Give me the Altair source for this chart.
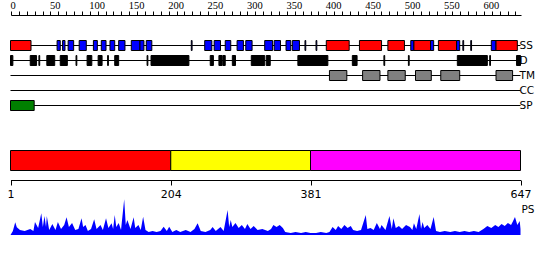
import altair as alt
import pandas as pd

seq_len = 647
tracks = ["SS", "D", "TM", "CC", "SP"]

# Secondary structure (H = red, E = blue)
ss_start = [1, 60, 67, 74, 88, 106, 116, 127, 138, 154, 165, 173, 230, 247, 259, 273, 288, 299,
            323, 335, 350, 358, 374, 388, 401, 443, 479, 508, 512, 533, 543, 566, 574, 584, 610, 616]
ss_end = [27, 64, 70, 81, 97, 111, 122, 133, 146, 165, 170, 180, 231, 256, 267, 280, 296, 307,
          333, 343, 356, 367, 375, 389, 430, 471, 500, 512, 533, 537, 566, 570, 575, 585, 616, 643]
ss_type = ["H", "E", "E", "E", "E", "E", "E", "E", "E", "E", "E", "E", "E", "E", "E", "E", "E", "E",
           "E", "E", "E", "E", "E", "E", "H", "H", "H", "E", "H", "E", "H", "E", "E", "E", "E", "H"]

# Disorder
d_start = [1, 26, 37, 47, 64, 84, 98, 112, 124, 133, 174, 179, 254, 265, 270, 282, 306, 325,
           365, 434, 474, 505, 567, 608, 642]
d_end = [4, 34, 38, 57, 73, 85, 104, 117, 125, 138, 175, 227, 258, 269, 273, 286, 323, 330,
         403, 440, 475, 506, 605, 609, 647]

# Transmembrane
tm_start = [405, 447, 479, 514, 546, 616]
tm_end = [427, 469, 501, 534, 570, 637]

# Signal peptide
sp_start = [1]
sp_end = [31]

# Domains
dom_name = ["Domain 1", "Domain 2", "Domain 3"]
dom_start = [1, 204, 381]
dom_end = [204, 381, 647]

# PS profile
ps_pos = [1, 4, 7, 9, 13, 19, 26, 30, 32, 36, 40, 42, 44, 46, 47, 50, 54, 58, 61, 65, 69, 72, 75,
          79, 83, 87, 91, 93, 96, 99, 103, 107, 110, 115, 118, 122, 125, 129, 131, 133, 135, 138,
          141, 145, 147, 149, 153, 157, 159, 163, 166, 169, 172, 176, 181, 186, 191, 195, 199, 202,
          206, 211, 216, 223, 229, 234, 238, 242, 248, 254, 257, 261, 267, 271, 276, 278, 280, 282,
          286, 290, 294, 298, 301, 305, 309, 314, 320, 327, 331, 334, 338, 342, 346, 349, 356, 362,
          369, 375, 381, 388, 394, 401, 405, 409, 413, 416, 420, 424, 428, 432, 435, 440, 445, 451,
          453, 457, 461, 465, 469, 471, 476, 481, 484, 486, 489, 493, 497, 502, 507, 510, 512, 515,
          519, 521, 523, 525, 529, 533, 537, 540, 545, 551, 558, 564, 570, 576, 582, 588, 594, 600,
          605, 610, 615, 619, 623, 627, 631, 635, 637, 640, 643, 646, 647]
ps_val = [0, 4, 12.7, 7.7, 5, 4, 6, 4, 13, 7, 21.7, 8, 19, 8, 19, 5, 11, 5, 13, 6, 10, 17.7, 8,
          12, 5, 6, 16.7, 8, 10, 4, 6, 15.7, 6, 10, 5, 16.7, 7, 11.7, 6, 20, 8, 12,
          5, 35.7, 10, 15, 6, 17.7, 7, 10, 5, 18.3, 5, 3, 4, 3, 4, 8.3, 4, 8.3,
          3, 5, 3, 5, 3, 6, 11.7, 4, 3, 5, 8, 4, 8, 4, 25, 8, 15, 8,
          12, 7, 10, 6, 11, 6, 9, 5, 6, 4, 6, 10, 8, 10, 7, 3, 2, 3,
          2, 3, 2, 2, 3, 2, 3, 8, 5, 9, 6, 10, 7, 9, 5, 4, 5, 20,
          6, 7, 5, 12, 6, 10, 5, 19, 6, 16.7, 7, 9, 6, 10, 8, 5, 11.7, 6,
          21, 6, 13, 7, 10, 6, 18, 4, 3, 4, 3, 4, 3, 4, 3, 4, 3, 6,
          9, 7, 10, 8, 11, 9, 12, 10, 13, 18, 10, 14, 6]

FONT = "DejaVu Sans"

features = pd.concat([
    pd.DataFrame({"track": "SS", "start": ss_start, "end": ss_end, "kind": ss_type}),
    pd.DataFrame({"track": "D", "start": d_start, "end": d_end, "kind": "D"}),
    pd.DataFrame({"track": "TM", "start": tm_start, "end": tm_end, "kind": "TM"}),
    pd.DataFrame({"track": "SP", "start": sp_start, "end": sp_end, "kind": "SP"}),
], ignore_index=True)

lines = pd.DataFrame({"track": tracks, "start": 1, "end": seq_len})
domains = pd.DataFrame({"name": dom_name, "start": dom_start, "end": dom_end})
ps = pd.DataFrame({"pos": ps_pos, "val": ps_val})
ruler = pd.DataFrame({"pos": [0, seq_len]})


def xsc():
    return alt.Scale(domain=[1, seq_len], range=[10.5, 520.5], nice=False, zero=False)


ysc = alt.Scale(domain=tracks, range=[38, 113], paddingInner=1 / 3, paddingOuter=1 / 6)

ruler_layer = alt.Chart(ruler).mark_point(opacity=0).encode(
    x=alt.X("pos:Q",
            scale=alt.Scale(domain=[0, seq_len], range=[11, 521], nice=False, zero=False),
            axis=alt.Axis(orient="top", offset=-15, values=list(range(0, 641, 10)),
                          labelExpr="datum.value % 50 === 0 ? datum.label : ''",
                          tickSize=4, labelPadding=1, labelAlign="left", labelOffset=-1,
                          labelFont="Liberation Sans Narrow", labelFontSize=10.5,
                          labelColor="black", tickColor="black", domainColor="black",
                          labelFlush=False, labelOverlap=False, grid=False, title=None)),
    y=alt.value(0),
)

line_layer = alt.Chart(lines).mark_rule(color="black", strokeWidth=1).encode(
    x=alt.X("start:Q", scale=xsc(), axis=None),
    x2="end:Q",
    y=alt.Y("track:N", scale=ysc, axis=None),
)

box_layer = alt.Chart(features).mark_rect(stroke="black", strokeWidth=1).encode(
    x=alt.X("start:Q", scale=xsc(), axis=None),
    x2="end:Q",
    y=alt.Y("track:N", scale=ysc, axis=None),
    color=alt.Color("kind:N",
                    scale=alt.Scale(domain=["H", "E", "D", "TM", "SP"],
                                    range=["#ff0000", "#0000ff", "#000000", "#808080", "#008000"]),
                    legend=None),
)

label_layer = alt.Chart(lines).mark_text(align="left", baseline="middle", font=FONT,
                                         fontSize=10.5, color="black", dx=-1).encode(
    x=alt.X("end:Q", scale=xsc(), axis=None),
    y=alt.Y("track:N", scale=ysc, axis=None),
    text="track:N",
)

dom_layer = alt.Chart(domains).mark_rect(stroke="black", strokeWidth=1).encode(
    x=alt.X("start:Q", scale=xsc(),
            axis=alt.Axis(orient="bottom", offset=-80, values=dom_start + [dom_end[-1]],
                          tickSize=5, labelPadding=3, labelFont=FONT, labelFontSize=11,
                          labelColor="black", tickColor="black", domainColor="black",
                          labelFlush=False, labelOverlap=False, grid=False, title=None)),
    x2="end:Q",
    y=alt.value(150.5),
    y2=alt.value(170.5),
    color=alt.Color("name:N",
                    scale=alt.Scale(domain=dom_name, range=["#ff0000", "#ffff00", "#ff00ff"]),
                    legend=None),
)

ps_layer = alt.Chart(ps).mark_area(color="#0000ff", interpolate="linear").encode(
    x=alt.X("pos:Q", scale=xsc(), axis=None),
    y=alt.Y("val:Q", scale=alt.Scale(domain=[0, 36], range=[235, 199], nice=False, zero=True),
            axis=None),
)

ps_label = alt.Chart(pd.DataFrame({"name": ["PS"], "pos": [seq_len]})).mark_text(
    align="left", baseline="middle", font=FONT, fontSize=10.5, color="black", dx=1
).encode(
    x=alt.X("pos:Q", scale=xsc(), axis=None),
    y=alt.value(210),
    text="name:N",
)

chart = alt.layer(
    ruler_layer, line_layer, box_layer, label_layer, dom_layer, ps_layer, ps_label
).resolve_scale(x="independent", y="independent", color="independent").resolve_axis(
    x="independent"
).properties(
    width=550, height=260, padding=0, autosize=alt.AutoSizeParams(type="none"),
    background="white"
).configure_view(stroke=None)

chart.save("out.html", embed_options={"renderer": "svg", "actions": False})
